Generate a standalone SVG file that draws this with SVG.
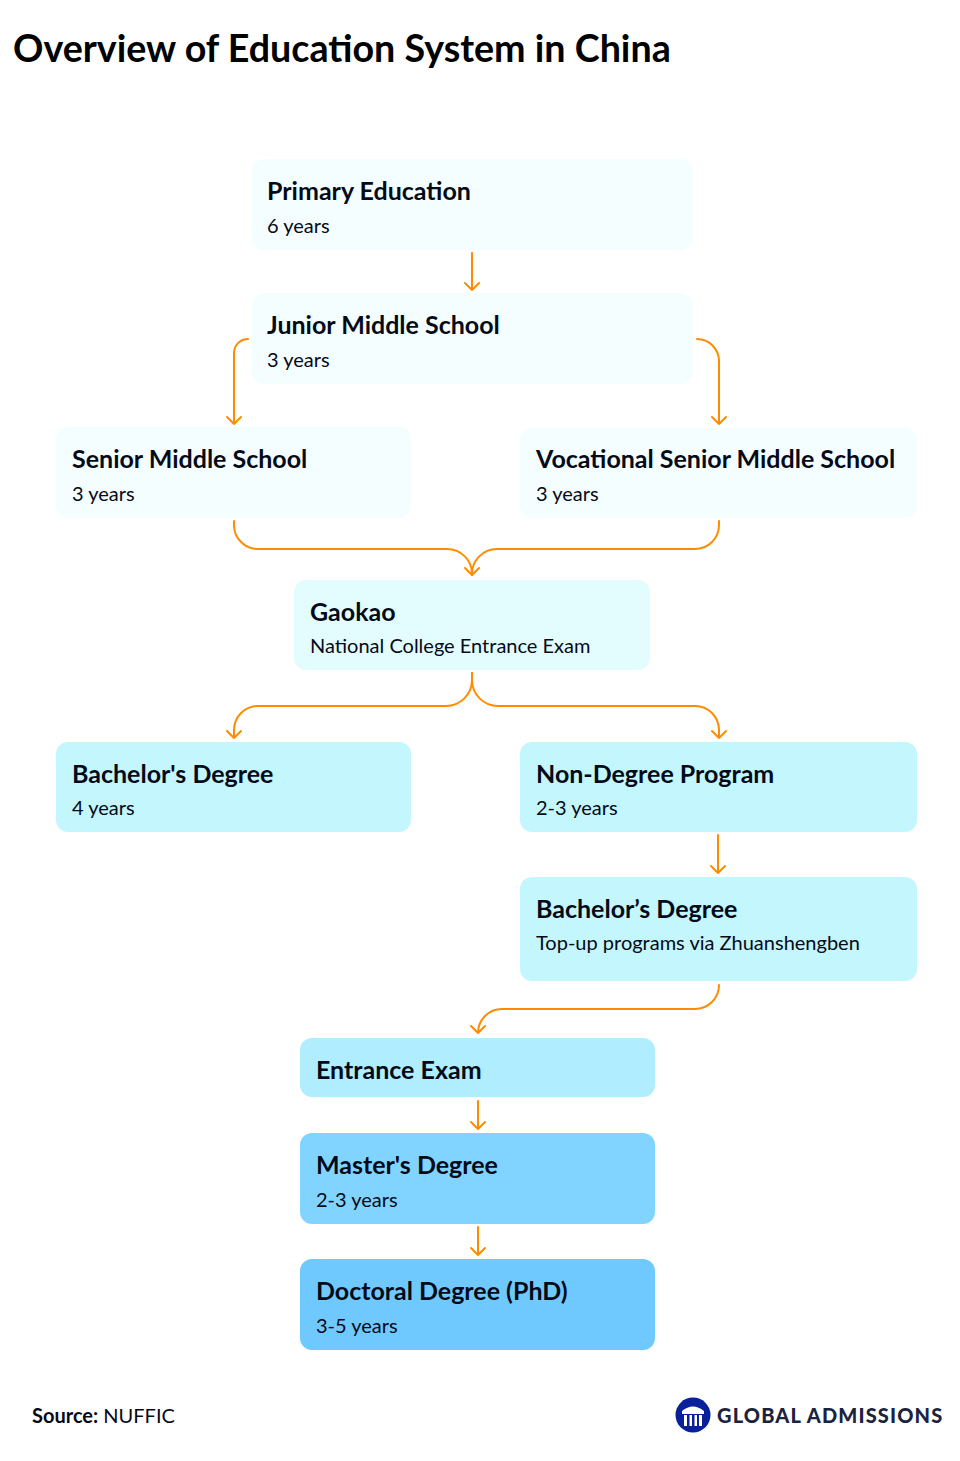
<svg xmlns="http://www.w3.org/2000/svg" width="960" height="1461" viewBox="0 0 960 1461">
<style>
text{font-family:Lato,"Open Sans","Liberation Sans",sans-serif;fill:#050a18}
.t{font-size:25px;font-weight:700}
.s{font-size:20px}
.c{fill:none;stroke:#ff8c00;stroke-width:2;stroke-linecap:round;stroke-linejoin:round}
.n1{fill:#f4fdff}.n2{fill:#e3fdff}.n3{fill:#c4f6fe}.n4{fill:#b0edff}.n5{fill:#81d4ff}.n6{fill:#70c9fe}
</style>
<text x="13" y="62" style="font-size:37.650px;font-weight:700;fill:#000">Overview of Education System in China</text>
<g id="connectors" class="c">
<path d="M472 253V290M465 283L472 290L479 283"/>
<path d="M248 339A14 14 0 0 0 234 353V424M227 417L234 424L241 417"/>
<path d="M697 339A22 22 0 0 1 719 361V424M712 417L719 424L726 417"/>
<path d="M234 521V525A24 24 0 0 0 258 549H447A25 25 0 0 1 472 575M465 568L472 575L479 568"/>
<path d="M719 521V525A24 24 0 0 1 695 549H497A25 25 0 0 0 472 575"/>
<path d="M472 673V680A26 26 0 0 1 446 706H258A24 24 0 0 0 234 730V738M227 731L234 738L241 731"/>
<path d="M472 673V680A26 26 0 0 0 498 706H695A24 24 0 0 1 719 730V738M712 731L719 738L726 731"/>
<path d="M718 835V873M711 866L718 873L725 866"/>
<path d="M719 985A24 24 0 0 1 695 1009H502A24 24 0 0 0 478 1033M471 1026L478 1033L485 1026"/>
<path d="M478 1101V1129M471 1122L478 1129L485 1122"/>
<path d="M478 1227V1255M471 1248L478 1255L485 1248"/>
</g>
<g id="primary"><rect class="n1" x="252" y="159" width="441" height="91" rx="12"/><text class="t" x="267" y="200">Primary Education</text><text class="s" x="267" y="233">6 years</text></g>
<g id="junior"><rect class="n1" x="252" y="293" width="441" height="91" rx="12"/><text class="t" x="267" y="334">Junior Middle School</text><text class="s" x="267" y="367">3 years</text></g>
<g id="senior"><rect class="n1" x="56" y="427" width="355" height="91" rx="12"/><text class="t" x="72" y="468">Senior Middle School</text><text class="s" x="72" y="501">3 years</text></g>
<g id="vocational"><rect class="n1" x="520" y="428" width="397" height="90" rx="12"/><text class="t" x="536" y="468">Vocational Senior Middle School</text><text class="s" x="536" y="501">3 years</text></g>
<g id="gaokao"><rect class="n2" x="294" y="580" width="356" height="90" rx="12"/><text class="t" x="310" y="621">Gaokao</text><text class="s" x="310" y="653">National College Entrance Exam</text></g>
<g id="bachelor"><rect class="n3" x="56" y="742" width="355" height="90" rx="12"/><text class="t" x="72" y="783">Bachelor's Degree</text><text class="s" x="72" y="815">4 years</text></g>
<g id="non-degree"><rect class="n3" x="520" y="742" width="397" height="90" rx="12"/><text class="t" x="536" y="783">Non-Degree Program</text><text class="s" x="536" y="815">2-3 years</text></g>
<g id="bachelor-topup"><rect class="n3" x="520" y="877" width="397" height="104" rx="12"/><text class="t" x="536" y="918">Bachelor’s Degree</text><text class="s" x="536" y="950">Top-up programs via Zhuanshengben</text></g>
<g id="entrance"><rect class="n4" x="300" y="1038" width="355" height="59" rx="12"/><text class="t" x="316" y="1079">Entrance Exam</text></g>
<g id="master"><rect class="n5" x="300" y="1133" width="355" height="91" rx="12"/><text class="t" x="316" y="1174">Master's Degree</text><text class="s" x="316" y="1207">2-3 years</text></g>
<g id="doctoral"><rect class="n6" x="300" y="1259" width="355" height="91" rx="12"/><text class="t" x="316" y="1300">Doctoral Degree (PhD)</text><text class="s" x="316" y="1333">3-5 years</text></g>
<text x="32" y="1423" style="font-size:20px"><tspan font-weight="700">Source:</tspan> NUFFIC</text>
<g id="logo"><circle cx="693" cy="1415" r="17.500" fill="#0a1f9c"/><path d="M682 1411Q693 1402 704 1411V1414H682ZM684 1415H687V1426H684ZM689.500 1415H692V1426H689.500ZM694.500 1415H697V1426H694.500ZM699 1415H702V1426H699Z" fill="#fff"/><text x="717" y="1422.500" style="font-size:20px;font-weight:900;letter-spacing:1.150px;fill:#1a2340">GLOBAL ADMISSIONS</text></g>
</svg>
